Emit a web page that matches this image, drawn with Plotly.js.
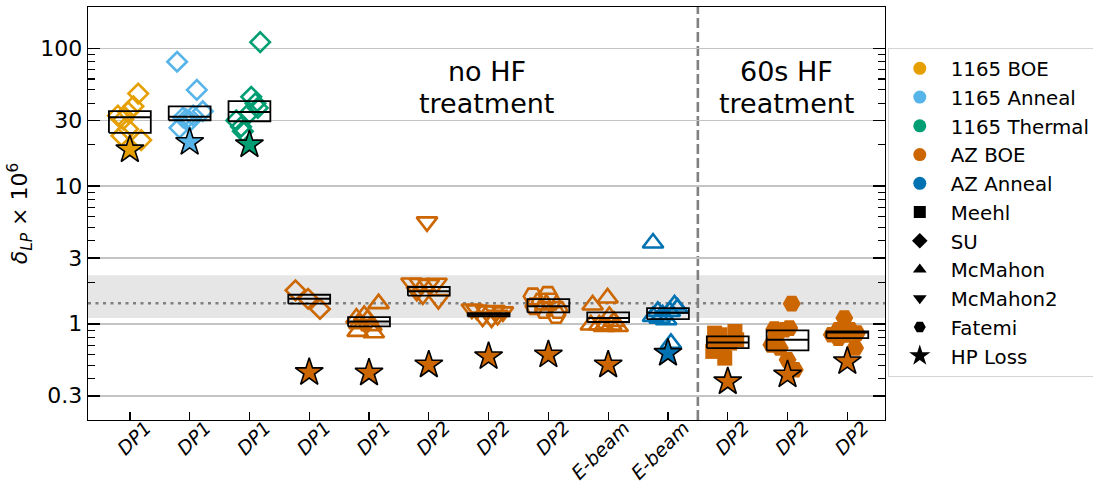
<!DOCTYPE html>
<html>
<head>
<meta charset="utf-8">
<script src="https://cdn.plot.ly/plotly-3.0.1.min.js"></script>
<style>
  html, body { margin: 0; padding: 0; background: #fff; }
  #chart { width: 1093px; height: 482px; }
</style>
</head>
<body>
<div id="chart"></div>
<script>
// Resonator categories along the x axis
const tickLabels = ['DP1', 'DP1', 'DP1', 'DP1', 'DP1', 'DP2', 'DP2', 'DP2', 'E-beam', 'E-beam', 'DP2', 'DP2', 'DP2'];
const sampleGroup = ['1165 BOE', '1165 Anneal', '1165 Thermal', 'AZ BOE', 'AZ BOE', 'AZ BOE', 'AZ BOE',
                     'AZ BOE', 'AZ BOE', 'AZ Anneal', 'AZ BOE', 'AZ BOE', 'AZ BOE'];
const design = ['SU', 'SU', 'SU', 'SU', 'McMahon', 'McMahon2', 'McMahon2', 'Fatemi', 'McMahon', 'McMahon',
                'Meehl', 'Fatemi', 'Fatemi'];
const hfTreated = [false, false, false, false, false, false, false, false, false, false, true, true, true];

// Low-power loss (x 1e-6) of each resonator, one array per category
const boe1165 = [47, 38, 34.5, 32.5, 30.5, 26, 23.2, 21.6];
const anneal1165 = [80, 50, 35, 32.5, 31.5, 30.5, 29.5, 26.5];
const thermal1165 = [111, 44.5, 40, 37, 34, 30, 27, 25];
const azBoeSU = [1.75, 1.52, 1.28];
const azBoeMcMahon = [1.40, 1.15, 1.10, 1.08, 1.0, 0.97, 0.88, 0.86];
const azBoeMcMahon2a = [5.5, 1.98, 1.96, 1.93, 1.97, 1.72, 1.62, 1.50];
const azBoeMcMahon2b = [1.28, 1.26, 1.24, 1.25, 1.22, 1.12, 1.10, 1.15];
const azBoeFatemi = [1.58, 1.62, 1.45, 1.45, 1.26, 1.16, 1.34, 1.26];
const azBoeEbeam = [1.37, 1.54, 0.98, 0.98, 1.13, 0.98, 0.955, 0.955, 1.04];
const azAnnealEbeam = [3.86, 1.13, 1.10, 1.07, 1.37, 1.30, 1.23, 1.23, 1.16, 0.72];
const hfMeehl = [0.832, 0.879, 0.703, 0.724, 0.63, 0.563, 0.765, 0.666, 0.855];
const hfFatemiA = [1.40, 0.915, 0.905, 0.703, 0.666, 0.547, 0.463, 0.81, 0.93];
const hfFatemiB = [1.10, 0.905, 0.905, 0.832, 0.787, 0.666, 0.83, 0.855];

// Horizontal scatter offsets of each resonator within its category
const boe1165Jit = [0.14, 0.06, -0.03, -0.2, -0.11, -0.03, -0.14, 0.19];
const anneal1165Jit = [-0.21, 0.12, 0.22, 0.06, -0.11, -0.06, 0, -0.17];
const thermal1165Jit = [0.18, 0.03, 0.1, 0.14, 0, -0.22, -0.14, -0.11];
const azBoeSUJit = [-0.23, -0.02, 0.18];
const azBoeMcMahonJit = [0.16, -0.08, -0.21, -0.02, -0.16, 0.04, -0.19, 0.08];
const azBoeMcMahon2aJit = [-0.03, -0.29, -0.15, 0, 0.13, -0.2, -0.1, 0.16];
const azBoeMcMahon2bJit = [-0.28, -0.2, -0.04, 0.1, 0.24, -0.1, 0.05, 0.15];
const azBoeFatemiJit = [-0.26, -0.01, -0.12, 0.05, -0.07, 0.13, -0.23, 0.16];
const azBoeEbeamJit = [-0.26, -0.01, -0.29, -0.15, 0.02, 0.05, 0.16, -0.07, 0.1];
const azAnnealEbeamJit = [-0.25, -0.25, -0.14, -0.03, 0.11, 0.16, 0.03, -0.17, -0.09, 0.05];
const hfMeehlJit = [-0.13, 0.12, -0.22, 0.03, -0.25, -0.05, 0.15, -0.08, -0.22];
const hfFatemiAJit = [0.07, -0.22, -0.05, -0.27, -0.13, 0, 0.12, -0.19, 0.03];
const hfFatemiBJit = [-0.05, -0.15, 0.05, -0.26, -0.15, 0.13, -0.03, 0.16];

// Summary box per category: lower quartile, median, upper quartile
const boxLow = [24.4, 30.1, 29.6, 1.40, 0.956, 1.60, 1.13, 1.21, 1.03, 1.08, 0.666, 0.64, 0.787];
const boxMid = [31.6, 31.9, 34.6, 1.52, 1.04, 1.72, 1.163, 1.34, 1.10, 1.20, 0.731, 0.765, 0.864];
const boxHigh = [35.0, 38.0, 41.4, 1.625, 1.118, 1.85, 1.196, 1.51, 1.21, 1.30, 0.809, 0.894, 0.879];

// Loss extracted at high power, one value per category
const hpLoss = [18.4, 20.8, 20.0, 0.443, 0.44, 0.503, 0.578, 0.595, 0.503, 0.612, 0.38, 0.426, 0.532];

// Reference band and its centre line
const bandLow = 1.1;
const bandHigh = 2.25;
const bandMid = 1.41;
const hfDivider = 9.5;

const categoryValues = [boe1165, anneal1165, thermal1165, azBoeSU, azBoeMcMahon, azBoeMcMahon2a,
  azBoeMcMahon2b, azBoeFatemi, azBoeEbeam, azAnnealEbeam, hfMeehl, hfFatemiA, hfFatemiB];
const categoryJitter = [boe1165Jit, anneal1165Jit, thermal1165Jit, azBoeSUJit, azBoeMcMahonJit,
  azBoeMcMahon2aJit, azBoeMcMahon2bJit, azBoeFatemiJit, azBoeEbeamJit, azAnnealEbeamJit,
  hfMeehlJit, hfFatemiAJit, hfFatemiBJit];

const groupColor = {
  '1165 BOE': '#E69F00',
  '1165 Anneal': '#56B4E9',
  '1165 Thermal': '#009E73',
  'AZ BOE': '#CC6600',
  'AZ Anneal': '#0072B2'
};
const designSymbol = {
  'Meehl': 'square', 'SU': 'diamond', 'McMahon': 'triangle-up',
  'McMahon2': 'triangle-down', 'Fatemi': 'hexagon2'
};
const designSize = { 'Meehl': 15, 'SU': 15, 'McMahon': 18, 'McMahon2': 18, 'Fatemi': 18 };

const FONT = 'DejaVu Sans, Liberation Sans, sans-serif';
const traces = [];

// Individual resonators
categoryValues.forEach((vals, i) => {
  const col = groupColor[sampleGroup[i]];
  const filled = hfTreated[i];
  traces.push({
    type: 'scatter', mode: 'markers',
    x: vals.map((_, k) => i + categoryJitter[i][k]),
    y: vals,
    showlegend: false, hoverinfo: 'y',
    marker: {
      symbol: designSymbol[design[i]] + (filled ? '' : '-open'),
      size: designSize[design[i]],
      color: col,
      line: { color: col, width: filled ? 0 : 2.6 }
    }
  });
});

// Summary boxes, built from the quartile arrays
const half = 0.35;
const bx = [], by = [], mx = [], my = [];
boxLow.forEach((lo, i) => {
  bx.push(i - half, i + half, i + half, i - half, i - half, null);
  by.push(lo, lo, boxHigh[i], boxHigh[i], lo, null);
  mx.push(i - half, i + half, null);
  my.push(boxMid[i], boxMid[i], null);
});
traces.push({ type: 'scatter', mode: 'lines', x: bx, y: by, showlegend: false, hoverinfo: 'skip',
  line: { color: '#000', width: 1.8 } });
traces.push({ type: 'scatter', mode: 'lines', x: mx, y: my, showlegend: false, hoverinfo: 'skip',
  line: { color: '#000', width: 2 } });

// High-power loss stars
traces.push({
  type: 'scatter', mode: 'markers',
  x: hpLoss.map((_, i) => i), y: hpLoss,
  showlegend: false, hoverinfo: 'y',
  marker: { symbol: 'star', size: 21, color: sampleGroup.map(g => groupColor[g]),
            line: { color: '#000', width: 1.6 } }
});

// Legend entries
Object.keys(groupColor).forEach(g => {
  traces.push({ type: 'scatter', mode: 'markers', x: [null], y: [null], name: g,
    marker: { symbol: 'circle', size: 13, color: groupColor[g] } });
});
['Meehl', 'SU', 'McMahon', 'McMahon2', 'Fatemi'].forEach(d => {
  traces.push({ type: 'scatter', mode: 'markers', x: [null], y: [null], name: d,
    marker: { symbol: designSymbol[d], size: 12, color: '#000' } });
});
traces.push({ type: 'scatter', mode: 'markers', x: [null], y: [null], name: 'HP Loss',
  marker: { symbol: 'star', size: 16, color: '#000' } });

// Minor ticks at every integer multiple inside each decade
const minorTicks = [];
for (let e = -1; e <= 2; e++) {
  for (let m = 2; m <= 9; m++) {
    const v = m * Math.pow(10, e);
    if (v >= 0.2 && v <= 200 && m !== 3) minorTicks.push(+v.toPrecision(3));
  }
}

const textFont = { family: FONT, size: 27, color: '#000' };

const layout = {
  width: 1093, height: 482,
  margin: { l: 88, r: 208, t: 7, b: 62, autoexpand: false },
  paper_bgcolor: '#fff', plot_bgcolor: '#fff',
  font: { family: FONT, color: '#000' },
  showlegend: true,
  xaxis: {
    range: [-0.7, 12.63],
    tickmode: 'array', tickvals: tickLabels.map((_, i) => i), ticktext: tickLabels,
    tickangle: -45, ticks: 'inside', ticklen: 8, tickwidth: 1.3, tickcolor: '#000',
    tickfont: { family: FONT, size: 19, style: 'italic', color: '#000' },
    ticklabelshift: 16, ticklabelstandoff: -12,
    showgrid: false, zeroline: false,
    showline: true, linecolor: '#000', linewidth: 1.3, mirror: true
  },
  yaxis: {
    type: 'log',
    range: [Math.log10(0.2), Math.log10(200)],
    tickmode: 'array', tickvals: [0.3, 1, 3, 10, 30, 100], ticktext: ['0.3', '1', '3', '10', '30', '100'],
    ticks: 'inside', ticklen: 12, tickwidth: 1.5, tickcolor: '#000',
    tickfont: { family: FONT, size: 22, color: '#000' },
    minor: { tickmode: 'array', tickvals: minorTicks, ticks: 'inside', ticklen: 7, tickwidth: 1.1,
             tickcolor: '#000', showgrid: false },
    showgrid: true, gridcolor: '#c4c4c4', gridwidth: 1.5,
    zeroline: false, showline: true, linecolor: '#000', linewidth: 1.3, mirror: 'allticks',
    title: { text: '<i>δ</i><sub><i>LP</i></sub> × 10<sup>6</sup>', font: { family: FONT, size: 22 }, standoff: 6 }
  },
  legend: {
    x: 1.0035, xanchor: 'left', y: 1.0, yanchor: 'top',
    bgcolor: '#fff', bordercolor: '#d4d4d4', borderwidth: 1,
    font: { family: FONT, size: 19.8, color: '#000' },
    itemwidth: 52
  },
  shapes: [
    { type: 'rect', xref: 'paper', x0: 0, x1: 1, yref: 'y', y0: bandLow, y1: bandHigh,
      fillcolor: '#e6e6e6', line: { width: 0 }, layer: 'below' },
    { type: 'line', xref: 'paper', x0: 0, x1: 1, yref: 'y', y0: bandMid, y1: bandMid,
      line: { color: '#808080', width: 2.6, dash: '3px,4.5px' }, layer: 'below' },
    { type: 'line', xref: 'x', x0: hfDivider, x1: hfDivider, yref: 'paper', y0: 0, y1: 1,
      line: { color: '#808080', width: 2.6, dash: '10px,4px' }, layer: 'below' }
  ],
  annotations: [
    { xref: 'paper', yref: 'paper', x: 0.5, y: 0.845, xanchor: 'center', yanchor: 'middle',
      text: 'no HF', showarrow: false, font: textFont },
    { xref: 'paper', yref: 'paper', x: 0.5, y: 0.767, xanchor: 'center', yanchor: 'middle',
      text: 'treatment', showarrow: false, font: textFont },
    { xref: 'paper', yref: 'paper', x: 0.877, y: 0.845, xanchor: 'center', yanchor: 'middle',
      text: '60s HF', showarrow: false, font: textFont },
    { xref: 'paper', yref: 'paper', x: 0.877, y: 0.767, xanchor: 'center', yanchor: 'middle',
      text: 'treatment', showarrow: false, font: textFont }
  ]
};

Plotly.newPlot('chart', traces, layout, { displayModeBar: false, staticPlot: true }).then(gd => {
  // place the legend box just below the top of the plot, as a fixed pixel offset
  const fl = gd._fullLayout;
  const legendTop = 48;
  const yPaper = 1 - (legendTop - fl.margin.t) / fl._size.h;
  return Plotly.relayout(gd, { 'legend.y': yPaper });
});
</script>
</body>
</html>
